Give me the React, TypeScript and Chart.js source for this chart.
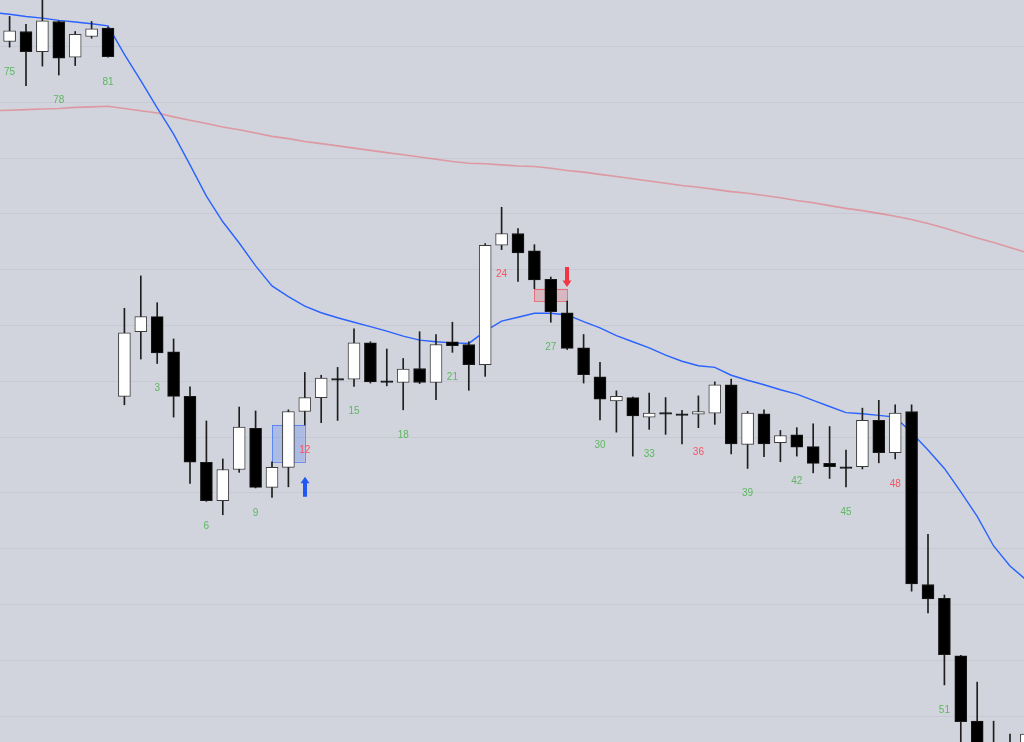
import React, { useEffect, useRef } from "react";
import { Chart, registerables } from "chart.js";

Chart.register(...registerables);

// Bar numbers (prior session 75-81, then current session 1-56)
const barNumbers = [75, 76, 77, 78, 79, 80, 81,
  1, 2, 3, 4, 5, 6, 7, 8, 9, 10, 11, 12, 13, 14, 15, 16, 17, 18, 19, 20,
  21, 22, 23, 24, 25, 26, 27, 28, 29, 30, 31, 32, 33, 34, 35, 36, 37, 38, 39, 40,
  41, 42, 43, 44, 45, 46, 47, 48, 49, 50, 51, 52, 53, 54, 55, 56];

const opens = [220.8, 222.6, 219.0, 224.4, 218.0, 221.7, 223.2,
  157.2, 168.8, 171.5, 165.2, 157.2, 145.4, 138.5, 144.1, 151.5, 140.9, 144.5, 154.5, 157.0, 160.4, 160.3, 166.8, 160.0, 159.7, 162.2, 159.7,
  167.0, 166.5, 162.9, 184.3, 186.4, 183.3, 178.2, 172.2, 165.9, 160.7, 156.4, 157.0, 153.5, 154.3, 154.1, 154.0, 154.2, 159.3, 148.6, 154.1,
  148.9, 150.3, 148.2, 145.2, 144.6, 144.6, 152.9, 147.1, 154.5, 123.5, 121.0, 110.7, 99.0, 93.8, 92.0, 92.5];
const highs = [225.3, 223.9, 228.8, 224.5, 222.6, 224.4, 223.4,
  173.0, 178.8, 174.0, 167.5, 158.9, 152.8, 146.0, 155.3, 154.6, 145.5, 154.8, 161.5, 161.0, 162.4, 169.3, 167.0, 165.7, 164.0, 168.8, 168.3,
  170.5, 167.0, 184.6, 191.1, 187.3, 184.4, 178.6, 174.3, 168.3, 163.3, 158.2, 157.1, 157.8, 157.0, 154.7, 157.3, 159.8, 160.3, 154.5, 154.8,
  151.1, 151.6, 152.3, 151.8, 147.6, 155.1, 156.5, 155.7, 155.7, 132.5, 121.6, 110.8, 106.0, 99.0, 96.7, 96.8];
const lows = [219.8, 212.9, 216.4, 214.8, 216.5, 221.4, 218.0,
  155.7, 163.9, 163.1, 153.5, 141.6, 138.4, 136.0, 143.6, 140.8, 139.1, 141.0, 152.1, 152.5, 152.9, 159.0, 159.6, 159.1, 154.8, 159.5, 156.6,
  165.1, 158.3, 160.8, 183.5, 177.8, 176.5, 170.5, 165.6, 159.6, 153.0, 150.8, 146.5, 151.3, 150.4, 148.7, 151.6, 152.2, 146.9, 144.3, 146.4,
  145.5, 146.5, 143.5, 142.5, 141.0, 144.2, 145.3, 146.0, 122.3, 118.4, 105.5, 92.0, 86.7, 86.7, 88.5, 90.0];
const closes = [222.7, 219.0, 224.5, 217.8, 222.1, 223.1, 218.1,
  168.6, 171.5, 165.0, 157.2, 145.4, 138.5, 144.1, 151.7, 140.9, 144.5, 154.5, 157.0, 160.5, 160.1, 166.8, 159.8, 159.7, 162.1, 159.7, 166.5,
  166.3, 162.9, 184.3, 186.4, 182.9, 178.1, 172.4, 165.8, 161.1, 156.7, 157.2, 153.7, 154.2, 154.0, 153.8, 154.5, 159.3, 148.7, 154.2, 148.7,
  150.2, 148.1, 145.2, 144.6, 144.3, 152.9, 147.1, 154.2, 123.6, 120.9, 110.9, 98.9, 90.3, 89.4, 94.2, 96.7];

// Moving averages (value for the bar before 75, which lies off the left edge, then one per bar)
const emaFastPrior = 226.0;
const emaSlowPrior = 208.4;
const emaFast = [225.7, 225.3, 225.0, 224.6, 224.3, 224.0, 223.6,
  218.5, 213.8, 208.9, 204.2, 198.7, 193.1, 188.5, 184.7, 180.6, 177.0, 175.1, 173.4, 172.2, 171.3, 170.5, 169.7, 168.9, 168.0, 167.3, 167.0,
  166.8, 166.7, 168.9, 170.7, 171.4, 172.1, 172.1, 171.8, 170.6, 169.5, 168.1, 167.0, 165.9, 164.6, 163.5, 162.7, 162.4, 161.0, 160.1, 159.3,
  158.4, 157.6, 156.5, 155.4, 154.3, 154.1, 153.8, 153.5, 150.7, 147.6, 144.3, 140.1, 135.7, 130.4, 126.8, 124.3];
const emaSlow = [208.5, 208.6, 208.7, 208.8, 209.0, 209.1, 209.2,
  208.8, 208.4, 208.0, 207.3, 206.7, 206.1, 205.5, 205.0, 204.4, 203.8, 203.4, 202.9, 202.5, 202.1, 201.7, 201.3, 200.9, 200.5, 200.1, 199.7,
  199.3, 199.0, 198.9, 198.7, 198.5, 198.4, 198.1, 197.7, 197.4, 197.0, 196.6, 196.2, 195.8, 195.4, 195.0, 194.7, 194.3, 193.9, 193.6, 193.2,
  192.8, 192.3, 191.9, 191.4, 190.9, 190.5, 190.0, 189.5, 188.9, 188.2, 187.4, 186.5, 185.6, 184.8, 183.9, 183.0];

// Horizontal grid levels
const gridLevels = [100, 110, 120, 130, 140, 150, 160, 170, 180, 190, 200, 210, 220];

// Bar-number labels
const labelStep = 3;
const redLabelNumbers = [12, 24, 36, 48];

// Gap zones (bar index from/to, price top/bottom)
const gapFrom = [16, 32];
const gapTo = [18, 34];
const gapTop = [152.1, 176.5];
const gapBottom = [145.5, 174.3];
const gapKind = ["bull", "bear"];

// Signal arrows (bar index, tip price, direction)
const signalIndex = [18, 34];
const signalPrice = [142.8, 176.8];
const signalDir = ["up", "down"];

const X_MIN = -0.5854;
const X_MAX = 61.854;
const Y_MIN = 95.27;
const Y_MAX = 228.245;

const BG = "#d1d4dc";
const GRID = "#c7cad2";

const overlayPlugin = {
  id: "overlay",
  beforeDatasetsDraw(chart: any) {
    const { ctx, chartArea } = chart;
    const x = chart.scales.x;
    const y = chart.scales.y;
    ctx.save();
    ctx.strokeStyle = GRID;
    ctx.lineWidth = 1;
    for (const g of gridLevels) {
      const py = Math.round(y.getPixelForValue(g)) + 0.5;
      ctx.beginPath();
      ctx.moveTo(chartArea.left, py);
      ctx.lineTo(chartArea.right, py);
      ctx.stroke();
    }
    for (let i = 0; i < gapFrom.length; i++) {
      const x1 = x.getPixelForValue(gapFrom[i]);
      const x2 = x.getPixelForValue(gapTo[i]);
      const y1 = y.getPixelForValue(gapTop[i]);
      const y2 = y.getPixelForValue(gapBottom[i]);
      if (gapKind[i] === "bull") {
        ctx.fillStyle = "rgba(41,98,255,0.22)";
        ctx.strokeStyle = "rgba(41,98,255,0.6)";
      } else {
        ctx.fillStyle = "rgba(242,54,69,0.18)";
        ctx.strokeStyle = "rgba(242,54,69,0.6)";
      }
      ctx.fillRect(x1, y1, x2 - x1, y2 - y1);
      ctx.lineWidth = 1;
      ctx.strokeRect(Math.round(x1) + 0.5, Math.round(y1) + 0.5, Math.round(x2 - x1), Math.round(y2 - y1));
    }
    ctx.restore();
  },
  afterDatasetsDraw(chart: any) {
    const { ctx } = chart;
    const x = chart.scales.x;
    const y = chart.scales.y;
    ctx.save();
    ctx.font = "10px 'Liberation Sans', Arial, sans-serif";
    ctx.textAlign = "center";
    ctx.textBaseline = "middle";
    for (let i = 0; i < barNumbers.length; i++) {
      const n = barNumbers[i];
      if (n % labelStep !== 0) continue;
      const px = x.getPixelForValue(i);
      const py = y.getPixelForValue(lows[i]) + 25;
      ctx.fillStyle = redLabelNumbers.includes(n) ? "#f7525f" : "#5cb860";
      ctx.fillText(String(n), px, py);
    }
    for (let i = 0; i < signalIndex.length; i++) {
      const px = Math.round(x.getPixelForValue(signalIndex[i]));
      const py = y.getPixelForValue(signalPrice[i]);
      const up = signalDir[i] === "up";
      ctx.fillStyle = up ? "#2157f3" : "#f23645";
      const s = up ? 1 : -1;
      ctx.beginPath();
      ctx.moveTo(px, py);
      ctx.lineTo(px + 4.5, py + s * 6.5);
      ctx.lineTo(px + 2, py + s * 6.5);
      ctx.lineTo(px + 2, py + s * 20);
      ctx.lineTo(px - 2, py + s * 20);
      ctx.lineTo(px - 2, py + s * 6.5);
      ctx.lineTo(px - 4.5, py + s * 6.5);
      ctx.closePath();
      ctx.fill();
    }
    ctx.restore();
  },
};

export default function App() {
  const ref = useRef<HTMLCanvasElement | null>(null);

  useEffect(() => {
    document.body.style.margin = "0";
    document.body.style.background = BG;
    const canvas = ref.current;
    if (!canvas) return;

    const bull = closes.map((c, i) => c >= opens[i]);
    const bodyData = opens.map((o, i) => ({ x: i, y: [o, closes[i]] }));
    const wickData = lows.map((l, i) => ({ x: i, y: [l, highs[i]] }));
    const fastPts = [{ x: -1, y: emaFastPrior }, ...emaFast.map((v, i) => ({ x: i, y: v }))];
    const slowPts = [{ x: -1, y: emaSlowPrior }, ...emaSlow.map((v, i) => ({ x: i, y: v }))];

    const chart = new Chart(canvas, {
      type: "bar",
      data: {
        datasets: [
          {
            type: "line",
            data: slowPts,
            borderColor: "rgba(242,54,69,0.38)",
            borderWidth: 1.6,
            pointRadius: 0,
            tension: 0,
            order: 6,
          } as any,
          {
            type: "line",
            data: fastPts,
            borderColor: "#2962ff",
            borderWidth: 1.4,
            pointRadius: 0,
            tension: 0,
            order: 5,
          } as any,
          {
            type: "bar",
            data: wickData,
            backgroundColor: "#1e1e1e",
            borderWidth: 0,
            barThickness: 1,
            grouped: false,
            order: 2,
          } as any,
          {
            type: "bar",
            data: bodyData,
            backgroundColor: bull.map((b) => (b ? "#ffffff" : "#000000")),
            borderColor: bull.map((b) => (b ? "#3c3c3c" : "#1a1a1a")),
            borderWidth: 1,
            borderSkipped: false,
            barThickness: 12,
            grouped: false,
            order: 1,
          } as any,
        ],
      },
      options: {
        responsive: false,
        animation: false,
        devicePixelRatio: 1,
        events: [],
        layout: { padding: 0 },
        plugins: {
          legend: { display: false },
          tooltip: { enabled: false },
        },
        scales: {
          x: {
            type: "linear",
            display: false,
            min: X_MIN,
            max: X_MAX,
            offset: false,
            grid: { display: false },
          },
          y: {
            type: "linear",
            display: false,
            min: Y_MIN,
            max: Y_MAX,
            grid: { display: false },
          },
        },
      } as any,
      plugins: [overlayPlugin],
    });

    return () => chart.destroy();
  }, []);

  return (
    <div style={{ width: 1024, height: 742, background: BG }}>
      <canvas ref={ref} width={1024} height={742} style={{ display: "block" }} />
    </div>
  );
}
